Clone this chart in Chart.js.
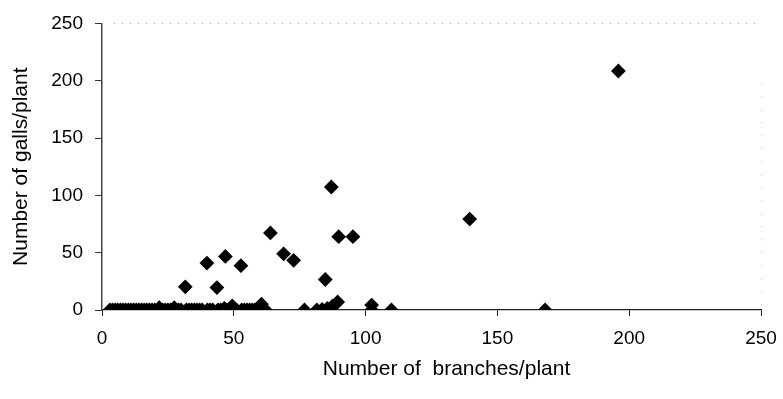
<!DOCTYPE html>
<html>
<head>
<meta charset="utf-8">
<script src="https://cdn.jsdelivr.net/npm/chart.js@4.4.1/dist/chart.umd.min.js"></script>
<style>
html,body{margin:0;padding:0;background:#fff;}
#wrap{width:783px;height:399px;position:relative;}
</style>
</head>
<body>
<div id="wrap"><canvas id="c"></canvas></div>
<script>
// ---- data ----
const branches = [
  3,4,5,6,7,8,9,10,11,12,13,14,15,16,17,18,19,20,22,23,24,25,26,28,29,30,
  32,33,34,35,36,37,38,40,41,42,44,45,47,48,50,51,53,54,55,56,57,58,59,61,62,
  21.7,27.4,46.4,49.4,60.5,
  76.8,81.5,83.5,85.5,87.5,89.4,102.3,102.3,109.8,168.1,
  31.6,43.6,84.7,52.7,39.8,46.8,72.7,68.9,63.9,89.8,95.2,87,139.5,195.9
];
const galls = [
  0,0,0,0,0,0,0,0,0,0,0,0,0,0,0,0,0,0,0,0,0,0,0,0,0,0,
  0,0,0,0,0,0,0,0,0,0,0,0,0,0,0,0,0,0,0,0,0,0,0,0,0,
  2,2,1.5,3.5,5,
  0,0,0.5,1.5,3.5,7,4.3,0,0,0,
  20.2,19.6,26.6,38.7,40.9,46.7,43.3,49,67.2,64,64,107.3,79.3,208.5
];
const xTicks = [0,50,100,150,200,250];
const yTicks = [0,50,100,150,200,250];
const xTitle = 'Number of  branches/plant';
const yTitle = 'Number of galls/plant';

const points = branches.map((b,i)=>({x:b,y:galls[i]}));

const family = '"Liberation Sans", Arial, sans-serif';
const font = {family, size:19};
const tfont = {family, size:21};

const frame = {
  id:'frame',
  afterDraw(chart){
    const {ctx, chartArea:a} = chart;
    ctx.save();
    ctx.strokeStyle = '#aaa';
    ctx.lineWidth = 1;
    ctx.setLineDash([1,7]);
    ctx.beginPath();
    ctx.moveTo(a.left+12, Math.round(a.top)+0.5);
    ctx.lineTo(a.right, Math.round(a.top)+0.5);
    ctx.stroke();
    ctx.setLineDash([1,12]);
    ctx.strokeStyle = '#bbb';
    ctx.beginPath();
    ctx.moveTo(Math.round(a.right)+0.5, a.top+60);
    ctx.lineTo(Math.round(a.right)+0.5, a.bottom-4);
    ctx.stroke();
    // x axis title, slightly right of the axis centre as in the source
    ctx.setLineDash([]);
    ctx.fillStyle = '#000';
    ctx.font = `${tfont.size}px ${family}`;
    ctx.textAlign = 'center';
    ctx.textBaseline = 'middle';
    ctx.fillText(xTitle, (a.left+a.right)/2 + 15, a.bottom + 59);
    ctx.restore();
  }
};

new Chart(document.getElementById('c'), {
  type:'scatter',
  data:{datasets:[{
    data:points,
    pointStyle:'rectRot',
    pointRadius:7.4,
    pointHoverRadius:7.4,
    backgroundColor:'#000',
    borderColor:'#000',
    borderWidth:0
  }]},
  options:{
    responsive:true,
    maintainAspectRatio:false,
    animation:false,
    events:[],
    layout:{padding:{top:21,right:22,left:0,bottom:0}},
    plugins:{legend:{display:false},tooltip:{enabled:false}},
    scales:{
      x:{
        type:'linear',min:0,max:250,
        afterBuildTicks(s){ s.ticks = xTicks.map(v=>({value:v})); },
        afterFit(s){ s.height = 89; s.paddingRight = 0; },
        ticks:{color:'#000',font:font,padding:11,maxRotation:0},
        grid:{drawOnChartArea:false,drawTicks:true,tickLength:6,color:'#222',tickColor:'#222'},
        border:{display:true,color:'#222',width:1.3},
        title:{display:false}
      },
      y:{
        type:'linear',min:0,max:250,
        afterBuildTicks(s){ s.ticks = yTicks.map(v=>({value:v})); },
        afterFit(s){ s.width = 102; },
        ticks:{color:'#000',font:font,padding:12},
        grid:{drawOnChartArea:false,drawTicks:true,tickLength:7,color:'#333',tickColor:'#333'},
        border:{display:true,color:'#444',width:1.5},
        title:{display:true,text:yTitle,color:'#000',font:tfont,padding:{top:9,bottom:0}}
      }
    }
  },
  plugins:[frame]
});
</script>
</body>
</html>
